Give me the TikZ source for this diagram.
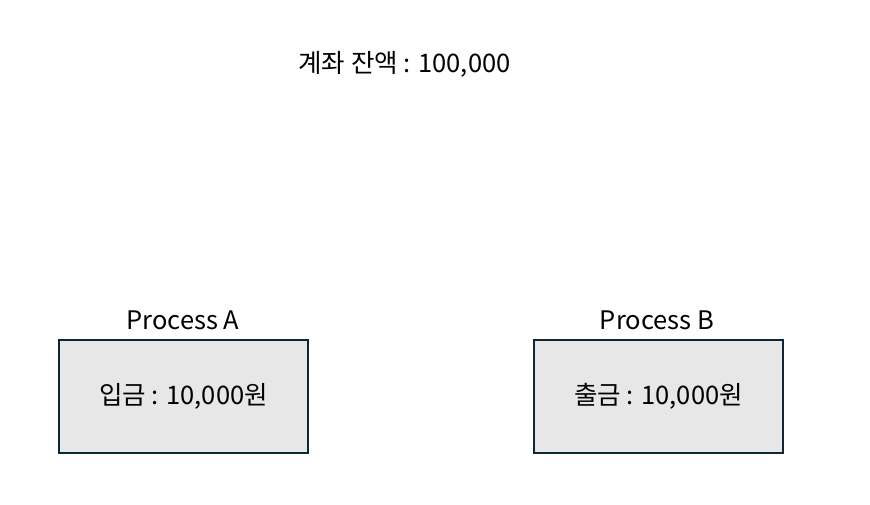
\documentclass[tikz,border=0pt]{standalone}
\usepackage{fontspec}
\setmainfont{Noto Sans CJK KR}
\begin{document}
\begin{tikzpicture}[x=1pt,y=-1pt,
  every node/.style={font=\fontsize{25.5}{30}\selectfont, text=black, inner sep=0pt},
  procbox/.style={draw=boxline, fill=boxfill, line width=1.6pt, minimum width=249pt, minimum height=113pt},
]
\definecolor{boxline}{HTML}{0D2736}
\definecolor{boxfill}{HTML}{E7E7E7}
\useasboundingbox (0,0) rectangle (870,504);
\node (balance) at (404.5,64) {계좌 잔액 : 100,000};
\node[procbox] (boxA) at (183.5,396.5) {입금 : 10,000원};
\node[procbox] (boxB) at (658.5,396.5) {출금 : 10,000원};
\node (labelA) at (183,320) {Process A};
\node (labelB) at (657,320) {Process B};
\end{tikzpicture}
\end{document}
